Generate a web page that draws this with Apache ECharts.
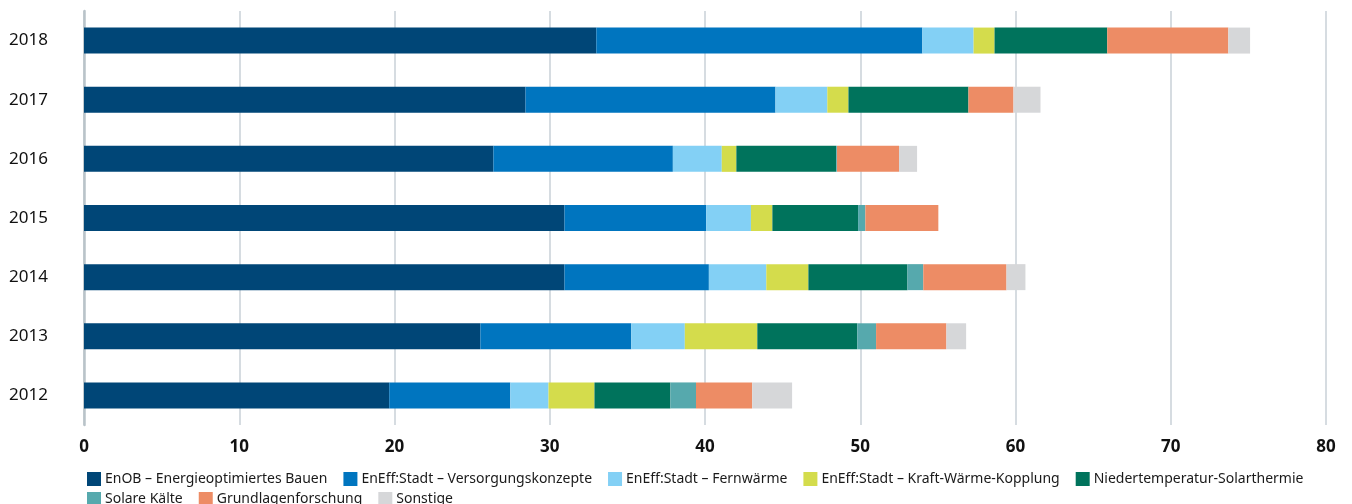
<!DOCTYPE html>
<html>
<head>
<meta charset="utf-8">
<script src="https://cdn.jsdelivr.net/npm/echarts@6/dist/echarts.min.js"></script>
<style>
html,body{margin:0;padding:0;background:#fff;}
#chart{width:1352px;height:504px;}
</style>
</head>
<body>
<div id="chart"></div>
<script>
var years = ['2012','2013','2014','2015','2016','2017','2018'];
var seriesNames = [
  'EnOB – Energieoptimiertes Bauen',
  'EnEff:Stadt – Versorgungskonzepte',
  'EnEff:Stadt – Fernwärme',
  'EnEff:Stadt – Kraft-Wärme-Kopplung',
  'Niedertemperatur-Solarthermie',
  'Solare Kälte',
  'Grundlagenforschung',
  'Sonstige'
];
var enob        = [19.66, 25.53, 30.95, 30.95, 26.37, 28.44, 33.0];
var versorgung  = [7.8, 9.72, 9.3, 9.13, 11.56, 16.1, 21.0];
var fernwaerme  = [2.46, 3.45, 3.7, 2.88, 3.15, 3.34, 3.3];
var kwk         = [2.96, 4.67, 2.71, 1.38, 0.94, 1.36, 1.35];
var solarthermie= [4.89, 6.44, 6.38, 5.52, 6.43, 7.73, 7.26];
var solareKaelte= [1.65, 1.21, 1.02, 0.47, 0.05, 0, 0];
var grundlagen  = [3.62, 4.53, 5.36, 4.7, 4.0, 2.9, 7.8];
var sonstige    = [2.57, 1.27, 1.22, 0, 1.16, 1.74, 1.4];
var xTicks = [0, 10, 20, 30, 40, 50, 60, 70, 80];

var colors = ['#004677','#0075bf','#83d0f5','#d4dc4c','#00735c','#56a9ad','#ed8c65','#d6d7d9'];
var values = [enob, versorgung, fernwaerme, kwk, solarthermie, solareKaelte, grundlagen, sonstige];

var series = seriesNames.map(function(n, i){
  return {
    name: n, type: 'bar', stack: 'total', barWidth: 26,
    itemStyle: {color: colors[i]},
    emphasis: {disabled: true},
    data: values[i]
  };
});

var chart = echarts.init(document.getElementById('chart'));
var legendCommon = {
  left: 82, itemWidth: 14, itemHeight: 14, itemGap: 16,
  icon: 'rect',
  textStyle: {fontFamily: 'Noto Sans', fontSize: 14, color: '#1a1a1a', padding: [0,0,0,-1]},
  selectedMode: false
};
chart.setOption({
  animation: false,
  grid: {left: 84, right: 26, top: 11, bottom: 79},
  xAxis: {
    type: 'value', min: 0, max: 80, interval: 10,
    axisLine: {show: false}, axisTick: {show: false},
    splitLine: {lineStyle: {color: '#c9d1d7', width: 1.5}},
    axisLabel: {
      margin: 14, color: '#111', fontFamily: 'Noto Sans', fontWeight: 'bold', fontSize: 17,
      formatter: function(v){ return xTicks.indexOf(v) >= 0 ? String(v) : ''; }
    }
  },
  yAxis: {
    type: 'category', data: years,
    axisLine: {show: true, lineStyle: {color: '#b9c3c9', width: 2.5}},
    axisTick: {show: false},
    axisLabel: {margin: 36, color: '#111', fontFamily: 'Noto Sans', fontSize: 17}
  },
  legend: [
    Object.assign({}, legendCommon, {top: 467, data: seriesNames.slice(0,5)}),
    Object.assign({}, legendCommon, {top: 487, data: seriesNames.slice(5)})
  ],
  series: series
});
</script>
</body>
</html>
